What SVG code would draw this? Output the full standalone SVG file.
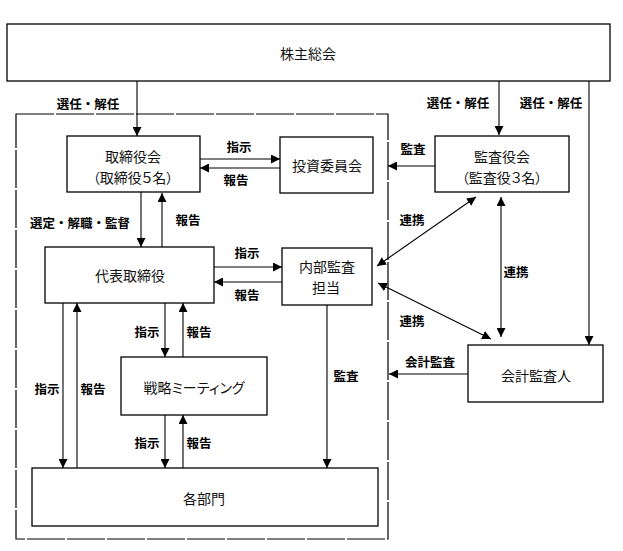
<svg xmlns="http://www.w3.org/2000/svg" width="623" height="551" viewBox="0 0 623 551">
<style>
.box{fill:#fff;stroke:#000;stroke-width:1.3}
.frame{fill:none;stroke:#000;stroke-width:1.2;stroke-dasharray:38 2}
.ln{fill:none;stroke:#000;stroke-width:1.1}
.arr{marker-end:url(#ah)}
.dbl{marker-end:url(#ah);marker-start:url(#ah)}
.nt{font-family:"Noto Sans CJK JP","Noto Sans CJK SC",sans-serif;font-size:14px;fill:#111;text-anchor:middle;dominant-baseline:central;font-feature-settings:"palt"}
.lb{font-family:"Noto Sans CJK JP","Noto Sans CJK SC",sans-serif;font-size:12.5px;font-weight:bold;fill:#000;text-anchor:middle;dominant-baseline:central}
</style>
<defs>
<marker id="ah" viewBox="0 0 10 10" refX="10" refY="5" markerWidth="9" markerHeight="9" markerUnits="userSpaceOnUse" orient="auto-start-reverse">
<path d="M0,0 L10,5 L0,10 z" fill="#000"/>
</marker>
</defs>
<rect width="623" height="551" fill="#fff"/>
<rect class="frame" x="16" y="114" width="372" height="425"/>

<g id="connectors">
<line class="ln arr" x1="137" y1="81" x2="137" y2="136"/>
<line class="ln arr" x1="499" y1="81" x2="499" y2="135"/>
<line class="ln arr" x1="589" y1="81" x2="589" y2="345"/>
<line class="ln arr" x1="200" y1="159" x2="280" y2="159"/>
<line class="ln arr" x1="280" y1="168" x2="200" y2="168"/>
<line class="ln arr" x1="141" y1="192" x2="141" y2="247"/>
<line class="ln arr" x1="162" y1="247" x2="162" y2="193"/>
<line class="ln arr" x1="214" y1="267" x2="282" y2="267"/>
<line class="ln arr" x1="282" y1="282" x2="214" y2="282"/>
<line class="ln arr" x1="435" y1="166" x2="388" y2="166"/>
<line class="ln dbl" x1="476" y1="197" x2="377" y2="266"/>
<line class="ln dbl" x1="501" y1="197" x2="501" y2="337"/>
<line class="ln dbl" x1="378" y1="283" x2="491" y2="339"/>
<line class="ln arr" x1="468" y1="374" x2="389" y2="374"/>
<line class="ln arr" x1="327" y1="305" x2="327" y2="468"/>
<line class="ln arr" x1="165" y1="303" x2="165" y2="357"/>
<line class="ln arr" x1="183" y1="357" x2="183" y2="303"/>
<line class="ln arr" x1="165" y1="415" x2="165" y2="468"/>
<line class="ln arr" x1="183" y1="468" x2="183" y2="415"/>
<line class="ln arr" x1="63" y1="303" x2="63" y2="468"/>
<line class="ln arr" x1="77" y1="468" x2="77" y2="303"/>
</g>

<g id="labels">
<text class="lb" x="88" y="103">選任・解任</text>
<text class="lb" x="458" y="102">選任・解任</text>
<text class="lb" x="551" y="102">選任・解任</text>
<text class="lb" x="239" y="146">指示</text>
<text class="lb" x="236" y="179">報告</text>
<text class="lb" x="80" y="222">選定・解職・監督</text>
<text class="lb" x="188" y="219">報告</text>
<text class="lb" x="247" y="252">指示</text>
<text class="lb" x="247" y="294">報告</text>
<text class="lb" x="413" y="148">監査</text>
<text class="lb" x="412" y="219">連携</text>
<text class="lb" x="516" y="271">連携</text>
<text class="lb" x="412" y="320">連携</text>
<text class="lb" x="430" y="361">会計監査</text>
<text class="lb" x="346" y="375">監査</text>
<text class="lb" x="147" y="331">指示</text>
<text class="lb" x="199" y="331">報告</text>
<text class="lb" x="47" y="388">指示</text>
<text class="lb" x="93" y="388">報告</text>
<text class="lb" x="147" y="442">指示</text>
<text class="lb" x="199" y="442">報告</text>
</g>

<g id="n-kabunushi">
<rect class="box" x="7" y="24" width="603" height="57"/>
<text class="nt" x="308" y="53">株主総会</text>
</g>
<g id="n-torishimariyakukai">
<rect class="box" x="67" y="136" width="133" height="56"/>
<text class="nt" x="133" y="156">取締役会</text>
<text class="nt" x="133" y="177">（取締役５名）</text>
</g>
<g id="n-toushi">
<rect class="box" x="280" y="137" width="93" height="56"/>
<text class="nt" x="327" y="165">投資委員会</text>
</g>
<g id="n-kansayakukai">
<rect class="box" x="435" y="136" width="134" height="56"/>
<text class="nt" x="502" y="156">監査役会</text>
<text class="nt" x="502" y="177">（監査役３名）</text>
</g>
<g id="n-daihyou">
<rect class="box" x="45" y="247" width="169" height="56"/>
<text class="nt" x="130" y="275">代表取締役</text>
</g>
<g id="n-naibu">
<rect class="box" x="282" y="248" width="90" height="57"/>
<text class="nt" x="327" y="266">内部監査</text>
<text class="nt" x="326" y="287">担当</text>
</g>
<g id="n-senryaku">
<rect class="box" x="121" y="357" width="146" height="58"/>
<text class="nt" x="194" y="387">戦略ミーティング</text>
</g>
<g id="n-kaikei">
<rect class="box" x="468" y="345" width="135" height="57"/>
<text class="nt" x="536" y="375">会計監査人</text>
</g>
<g id="n-kakubumon">
<rect class="box" x="32" y="468" width="346" height="58"/>
<text class="nt" x="204" y="498">各部門</text>
</g>
</svg>
